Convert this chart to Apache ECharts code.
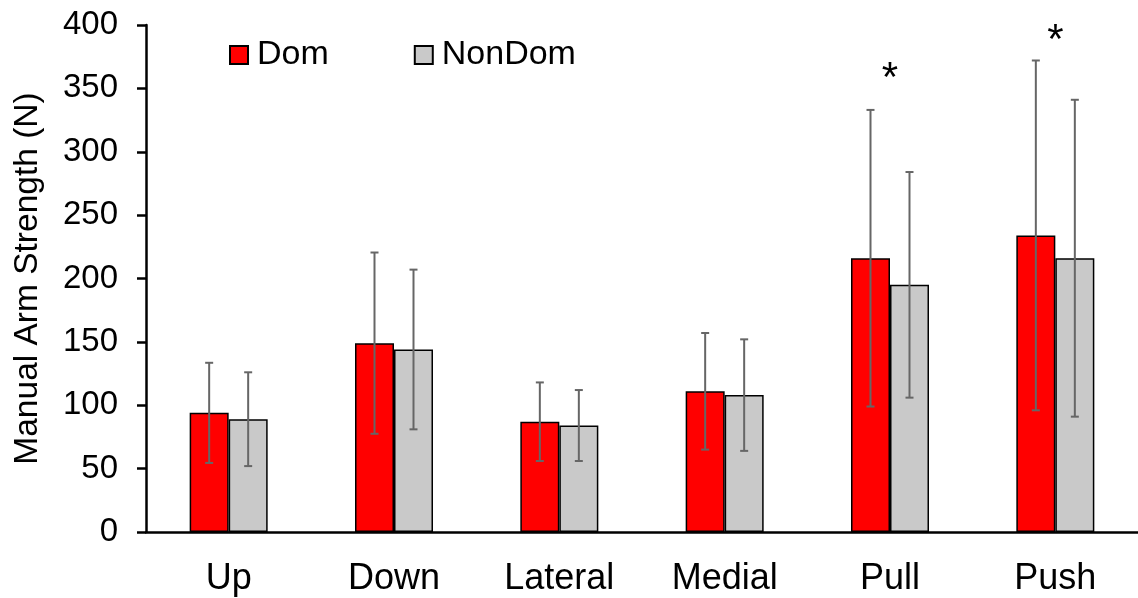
<!DOCTYPE html>
<html>
<head>
<meta charset="utf-8">
<script src="https://cdn.jsdelivr.net/npm/echarts@6/dist/echarts.min.js"></script>
<style>
  html, body { margin: 0; padding: 0; background: #fff; }
  #chart { width: 1138px; height: 598px; }
</style>
</head>
<body>
<div id="chart"></div>
<script>
// Movement directions
const categories = ['Up', 'Down', 'Lateral', 'Medial', 'Pull', 'Push'];
// Mean strength (N), dominant and non-dominant arm
const domMean = [94, 149, 87, 111, 216, 234];
const nonDomMean = [89, 144, 84, 108, 195, 216];
// Standard deviations (N)
const domSD = [39.5, 71.5, 31, 46, 117, 138];
const nonDomSD = [37, 63, 28, 44, 89, 125];
// Significance markers (value at which the asterisk sits; null = none)
const sigLevel = [null, null, null, null, 364, 394];
const yTicks = { min: 0, max: 400, interval: 50 };

const FONT = 'Liberation Sans, Arial, sans-serif';
const BAR_W = 39;
const ERR_COLOR = '#666666';

function errorSeries(name, means, sds, side) {
  return {
    type: 'custom',
    name: name + ' SD',
    z: 10,
    silent: true,
    data: means.map((m, i) => [i, m, sds[i]]),
    renderItem: function (params, api) {
      const i = api.value(0);
      const m = api.value(1);
      const sd = api.value(2);
      const cx = api.coord([i, 0])[0] + side * BAR_W / 2;
      const yHi = api.coord([i, m + sd])[1];
      const yLo = api.coord([i, m - sd])[1];
      const cap = 4;
      const st = { stroke: ERR_COLOR, lineWidth: 2 };
      return {
        type: 'group',
        children: [
          { type: 'line', shape: { x1: cx, y1: yHi, x2: cx, y2: yLo }, style: st },
          { type: 'line', shape: { x1: cx - cap, y1: yHi, x2: cx + cap, y2: yHi }, style: st },
          { type: 'line', shape: { x1: cx - cap, y1: yLo, x2: cx + cap, y2: yLo }, style: st }
        ]
      };
    }
  };
}

const chart = echarts.init(document.getElementById('chart'), null, { renderer: 'canvas' });

chart.setOption({
  animation: false,
  backgroundColor: '#ffffff',
  textStyle: { fontFamily: FONT },
  grid: { left: 146, top: 25, bottom: 66, width: 997 },
  legend: {
    data: ['Dom', 'NonDom'],
    left: 229,
    top: 38,
    padding: 0,
    icon: 'rect',
    itemWidth: 18,
    itemHeight: 18,
    itemGap: 85,
    textStyle: { fontSize: 34, color: '#000', fontFamily: FONT, padding: [0, 0, 0, 4] }
  },
  xAxis: {
    type: 'category',
    data: categories,
    axisLine: { show: true, lineStyle: { color: '#000', width: 2.5 } },
    axisTick: { show: false },
    axisLabel: { fontSize: 36, color: '#000', margin: 29, fontFamily: FONT }
  },
  yAxis: {
    type: 'value',
    min: yTicks.min,
    max: yTicks.max,
    interval: yTicks.interval,
    name: 'Manual Arm Strength (N)',
    nameLocation: 'middle',
    nameGap: 101,
    nameTextStyle: { fontSize: 33.5, color: '#000', fontFamily: FONT },
    axisLine: { show: true, lineStyle: { color: '#000', width: 2.5 } },
    axisTick: { show: true, length: 9, lineStyle: { color: '#000', width: 2.5 } },
    axisLabel: { fontSize: 33, color: '#000', margin: 28, fontFamily: FONT },
    splitLine: { show: false }
  },
  series: [
    {
      type: 'bar',
      name: 'Dom',
      data: domMean,
      barWidth: BAR_W,
      barGap: '0%',
      itemStyle: { color: '#ff0000', borderColor: '#000', borderWidth: 1.5 }
    },
    {
      type: 'bar',
      name: 'NonDom',
      data: nonDomMean,
      barWidth: BAR_W,
      barGap: '0%',
      itemStyle: { color: '#c9c9c9', borderColor: '#000', borderWidth: 1.5 }
    },
    errorSeries('Dom', domMean, domSD, -1),
    errorSeries('NonDom', nonDomMean, nonDomSD, 1),
    {
      type: 'custom',
      name: 'significance',
      silent: true,
      z: 11,
      data: sigLevel.map((v, i) => [i, v]).filter(d => d[1] !== null),
      renderItem: function (params, api) {
        const p = api.coord([api.value(0), api.value(1)]);
        const fs = 42;
        return {
          type: 'text',
          x: p[0],
          y: p[1] + fs * 0.22,
          style: {
            text: '*',
            fontSize: fs,
            fontFamily: FONT,
            fill: '#000',
            align: 'center',
            verticalAlign: 'middle'
          }
        };
      }
    }
  ]
});
</script>
</body>
</html>
